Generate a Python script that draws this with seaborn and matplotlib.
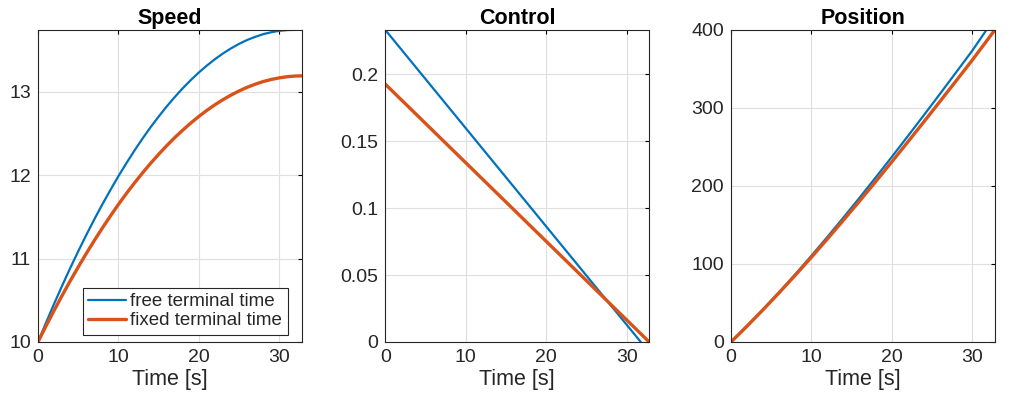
"""
Speed / control / position for free vs fixed terminal time
"""
import pandas as pd
import matplotlib.pyplot as plt
import seaborn as sns
from matplotlib.ticker import FuncFormatter

# speed samples, 1 s apart (s)
t_speed_free = list(range(0, 32)) + [31.75]
t_speed_fixed = list(range(0, 33)) + [32.8]

# speed
speed_free = [10.0, 10.232, 10.457, 10.674, 10.885, 11.087, 11.282, 11.470,
              11.650, 11.822, 11.988, 12.145, 12.296, 12.439, 12.575, 12.702,
              12.823, 12.936, 13.042, 13.140, 13.231, 13.314, 13.390, 13.459,
              13.520, 13.574, 13.620, 13.658, 13.690, 13.713, 13.730, 13.739,
              13.741]
speed_fixed = [10.0, 10.192, 10.377, 10.557, 10.731, 10.898, 11.060, 11.216,
               11.366, 11.510, 11.649, 11.781, 11.907, 12.027, 12.142, 12.250,
               12.353, 12.450, 12.540, 12.625, 12.704, 12.777, 12.844, 12.905,
               12.960, 13.009, 13.053, 13.090, 13.122, 13.147, 13.166, 13.180,
               13.188, 13.190]

# control is a straight line, start and end values
t_ctrl_free = [0, 31.75]
ctrl_free = [0.233, 0.0]
t_ctrl_fixed = [0, 32.8]
ctrl_fixed = [0.1925, 0.0]

# position, 2 s apart
t_pos_free = [0, 2, 4, 6, 8, 10, 12, 14, 16, 18, 20, 22, 24, 26, 28, 30, 31.75]
t_pos_fixed = [0, 2, 4, 6, 8, 10, 12, 14, 16, 18, 20, 22, 24, 26, 28, 30, 32.8]
pos_free = [0, 20.5, 41.8, 64.0, 86.9, 110.6, 134.9, 159.8, 185.2, 211.1,
            237.4, 264.1, 291.1, 318.4, 345.9, 373.6, 400.0]
pos_fixed = [0, 20.4, 41.5, 63.3, 85.7, 108.7, 132.3, 156.4, 180.9, 205.8,
             231.1, 256.7, 282.6, 308.7, 335.0, 361.5, 400.0]

labels = ["free terminal time", "fixed terminal time"]
colors = ["#0072BD", "#D95319"]
widths = [1.6, 2.4]

sns.set_style("white")
plt.rcParams['font.family'] = ['Liberation Sans', 'DejaVu Sans']
plt.rcParams['xtick.direction'] = 'in'
plt.rcParams['ytick.direction'] = 'in'

fig = plt.figure(figsize=(10.13, 4.05), dpi=100)
lefts = [0.0375, 0.3804, 0.7216]
w = 0.2605
axes = [fig.add_axes([l, 0.1556, w, 0.7704]) for l in lefts]


def draw(ax, xs, ys):
    for x, y, lab, c, lw in zip(xs, ys, labels, colors, widths):
        df = pd.DataFrame({"t": x, "v": y})
        sns.lineplot(data=df, x="t", y="v", ax=ax, color=c, linewidth=lw,
                     label=lab, sort=False, estimator=None)


draw(axes[0], [t_speed_free, t_speed_fixed], [speed_free, speed_fixed])
draw(axes[1], [t_ctrl_free, t_ctrl_fixed], [ctrl_free, ctrl_fixed])
draw(axes[2], [t_pos_free, t_pos_fixed], [pos_free, pos_fixed])

titles = ["Speed", "Control", "Position"]
ylims = [(10, 13.74), (0, 0.233), (0, 400)]
yticks = [[10, 11, 12, 13], [0, 0.05, 0.1, 0.15, 0.2], [0, 100, 200, 300, 400]]

for ax, title, yl, yt in zip(axes, titles, ylims, yticks):
    ax.set_xlim(0, 32.8)
    ax.set_ylim(*yl)
    ax.set_xticks([0, 10, 20, 30])
    ax.set_yticks(yt)
    ax.yaxis.set_major_formatter(FuncFormatter(lambda v, p: f"{v:g}"))
    ax.grid(True, color="#dfdfdf", linewidth=0.8)
    ax.set_axisbelow(True)
    ax.tick_params(axis="both", labelsize=14, colors="black",
                   labelcolor="#262626", length=3, width=0.8,
                   top=True, right=True, pad=5)
    for s in ax.spines.values():
        s.set_color("#262626")
        s.set_linewidth(0.8)
    ax.set_title(title, fontsize=15.5, fontweight="bold", color="black", pad=4)
    ax.set_xlabel("Time [s]", fontsize=15.5, color="#262626", labelpad=2)
    ax.set_ylabel("")
    if ax is not axes[0]:
        ax.get_legend().remove()

leg = axes[0].legend(loc="lower right", bbox_to_anchor=(0.947, 0.022),
                     borderaxespad=0, fontsize=13.5, frameon=True,
                     fancybox=False, framealpha=1, edgecolor="#262626",
                     handlelength=2.0, handletextpad=0.25, borderpad=0.3,
                     labelspacing=0.1)
leg.get_frame().set_linewidth(0.8)

plt.savefig("out.png", dpi=100)
plt.close()
